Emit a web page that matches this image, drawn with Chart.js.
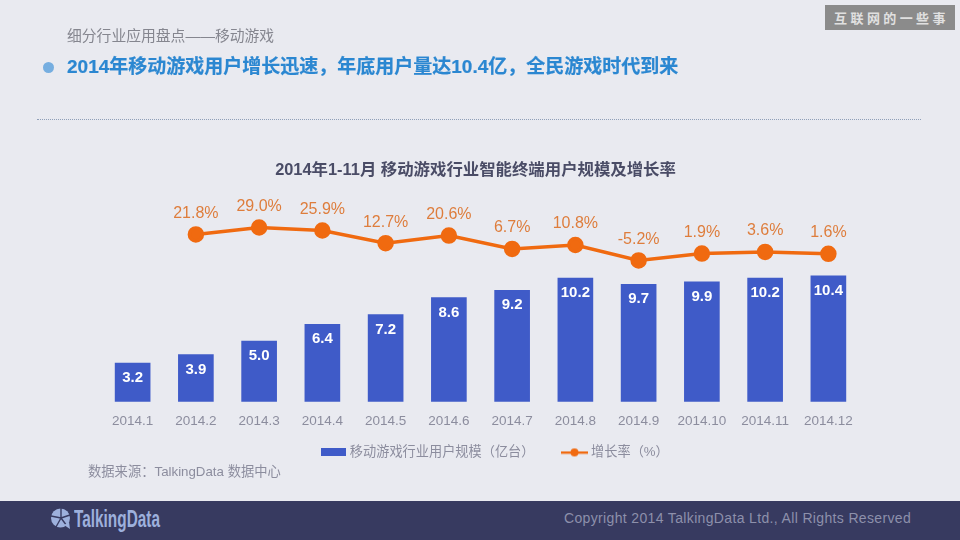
<!DOCTYPE html>
<html>
<head>
<meta charset="utf-8">
<script src="https://cdn.jsdelivr.net/npm/chart.js@4/dist/chart.umd.min.js"></script>
<style>
  html, body { margin: 0; padding: 0; }
  body { width: 960px; height: 540px; overflow: hidden; position: relative; background: #e9eaf0;
         font-family: "Liberation Sans", "Noto Sans CJK SC", sans-serif; }
  canvas { position: absolute; left: 0; top: 0; }
  .abs { position: absolute; white-space: nowrap; }
  #sub { left: 67px; top: 27px; font-size: 14.8px; line-height: 18px; color: #85868f; }
  #dot { left: 43px; top: 62px; width: 11px; height: 11px; border-radius: 50%; background: #76aee0; }
  #headline { left: 67px; top: 54px; font-size: 19px; line-height: 25px; font-weight: bold; color: #2b87d1;
              -webkit-text-stroke: 0.2px #2b87d1; }
  #rule { left: 37px; top: 119px; width: 884px; border-top: 1px dotted #8f9fb8; }
  #badge { left: 825px; top: 5px; width: 127px; padding-left: 3px; height: 25px; background: #8b8b8b; color: #e0e0e0;
           font-size: 13px; line-height: 25px; text-align: center; letter-spacing: 3.4px; font-weight: bold;
           font-family: "Noto Sans CJK SC", serif; }
  #source { left: 88px; top: 463px; font-size: 13.3px; line-height: 17px; color: #8c8d9e; }
  #footer { left: 0; top: 501px; width: 960px; height: 39px; background: #373a60; }
  #logo { left: 50px; top: 508px; }
  #brand { left: 74px; top: 505px; font-size: 24px; line-height: 28px; font-weight: bold; color: #9db0dc;
           transform: scaleX(0.64); transform-origin: left center; }
  #copy { left: 564px; top: 510px; font-size: 14px; line-height: 17px; color: #8d90ab; letter-spacing: 0.35px; }
</style>
</head>
<body>
<canvas id="chart" width="960" height="540"></canvas>
<div class="abs" id="sub">细分行业应用盘点——移动游戏</div>
<div class="abs" id="dot"></div>
<div class="abs" id="headline">2014年移动游戏用户增长迅速，年底用户量达10.4亿，全民游戏时代到来</div>
<div class="abs" id="rule"></div>
<div class="abs" id="badge">互联网的一些事</div>
<div class="abs" id="source">数据来源：TalkingData 数据中心</div>
<div class="abs" id="footer"></div>
<svg class="abs" id="logo" width="22" height="22" viewBox="0 0 22 22">
  <circle cx="10.5" cy="10" r="9.5" fill="#9db0dc"/>
  <path d="M11 10L11 0M11 10L20 7M11 10L17 18M11 10L6 19M11 10L1 8" stroke="#373a60" stroke-width="1.4"/>
  <path d="M14 17L20 21L19 14Z" fill="#9db0dc"/>
</svg>
<div class="abs" id="brand">TalkingData</div>
<div class="abs" id="copy">Copyright 2014 TalkingData Ltd., All Rights Reserved</div>

<script>
const chartTitle = "2014年1-11月 移动游戏行业智能终端用户规模及增长率";
const months = ["2014.1", "2014.2", "2014.3", "2014.4", "2014.5", "2014.6", "2014.7", "2014.8", "2014.9", "2014.10", "2014.11", "2014.12"];
const users = [3.2, 3.9, 5.0, 6.4, 7.2, 8.6, 9.2, 10.2, 9.7, 9.9, 10.2, 10.4];
const growth = [null, 21.8, 29.0, 25.9, 12.7, 20.6, 6.7, 10.8, -5.2, 1.9, 3.6, 1.6];
const usersName = "移动游戏行业用户规模（亿台）";
const growthName = "增长率（%）";

const BLUE = "#3f5bc8";
const ORANGE = "#f06a10";
const LABEL_ORANGE = "#de7d3c";
const GRAY = "#8c8d9e";

// legend swatches
function barSwatch() {
    const c = document.createElement('canvas');
    c.width = 25; c.height = 8;
    const ctx = c.getContext('2d');
    ctx.fillStyle = BLUE;
    ctx.fillRect(0, 0, 25, 8);
    return c;
}
function lineSwatch() {
    const c = document.createElement('canvas');
    c.width = 27; c.height = 10;
    const ctx = c.getContext('2d');
    ctx.fillStyle = ORANGE;
    ctx.fillRect(0, 4, 27, 2.4);
    ctx.beginPath();
    ctx.arc(13.5, 5, 4, 0, Math.PI * 2);
    ctx.fill();
    return c;
}

// value labels, placed from the scales
const valueLabels = {
    id: 'valueLabels',
    beforeLayout(chart) {
        // legend padding is only wanted between items, so take some height back
        const legend = chart.legend;
        const fit = legend.fit;
        legend.fit = function () {
            fit.call(this);
            this.height -= 20;
        };
    },
    afterLayout(chart) {
        // title and legend are not centred on the canvas in the reference
        chart.titleBlock.left -= 5;
        chart.titleBlock.right -= 5;
        chart.legend.left += 15.5;
        chart.legend.right += 15.5;
        chart.legend.top -= 20;
    },
    afterDatasetsDraw(chart) {
        const ctx = chart.ctx;
        ctx.save();
        ctx.textAlign = 'center';
        ctx.textBaseline = 'middle';
        ctx.fillStyle = '#ffffff';
        ctx.font = 'bold 15px "Liberation Sans"';
        chart.getDatasetMeta(1).data.forEach((bar, i) => {
            ctx.fillText(users[i].toFixed(1), bar.x, bar.y + 15);
        });
        ctx.fillStyle = LABEL_ORANGE;
        ctx.font = '16px "Liberation Sans"';
        chart.getDatasetMeta(0).data.forEach((pt, i) => {
            if (growth[i] === null) return;
            ctx.fillText(growth[i].toFixed(1) + '%', pt.x, pt.y - 21);
        });
        ctx.restore();
    }
};

new Chart(document.getElementById('chart'), {
    type: 'bar',
    plugins: [valueLabels],
    data: {
        labels: months,
        datasets: [
            {
                type: 'line',
                label: growthName,
                data: growth,
                yAxisID: 'yRate',
                borderColor: ORANGE,
                backgroundColor: ORANGE,
                borderWidth: 3.5,
                pointRadius: 6.5,
                pointHoverRadius: 6.5,
                tension: 0,
                order: 0
            },
            {
                label: usersName,
                data: users,
                yAxisID: 'yUsers',
                backgroundColor: BLUE,
                barThickness: 35,
                order: 1
            }
        ]
    },
    options: {
        responsive: false,
        animation: false,
        layout: { padding: { left: 101, right: 100, top: 0, bottom: 71 } },
        scales: {
            x: {
                grid: { display: false },
                border: { display: false },
                ticks: {
                    color: GRAY,
                    font: { size: 13.5, family: '"Liberation Sans"' },
                    padding: 3,
                    maxRotation: 0,
                    autoSkip: false
                },
                afterFit(axis) { axis.height = 34; }
            },
            yUsers: { display: false, min: 0, max: 17.58 },
            yRate: { display: false, min: -152.3, max: 69.4 }
        },
        plugins: {
            title: {
                display: true,
                text: chartTitle,
                color: '#4a4c66',
                font: { size: 16.4, weight: 'bold', family: '"Liberation Sans", "Noto Sans CJK SC"' },
                padding: { top: 161, bottom: 8 }
            },
            legend: {
                position: 'bottom',
                labels: {
                    usePointStyle: true,
                    color: GRAY,
                    font: { size: 13.2, family: '"Liberation Sans", "Noto Sans CJK SC"' },
                    padding: 30,
                    boxWidth: 20,
                    pointStyleWidth: 20,
                    generateLabels() {
                        return [
                            { text: usersName, pointStyle: barSwatch(), fontColor: GRAY, datasetIndex: 1, lineWidth: 0 },
                            { text: growthName, pointStyle: lineSwatch(), fontColor: GRAY, datasetIndex: 0, lineWidth: 0 }
                        ];
                    }
                }
            },
            tooltip: { enabled: false }
        }
    }
});
</script>
</body>
</html>
